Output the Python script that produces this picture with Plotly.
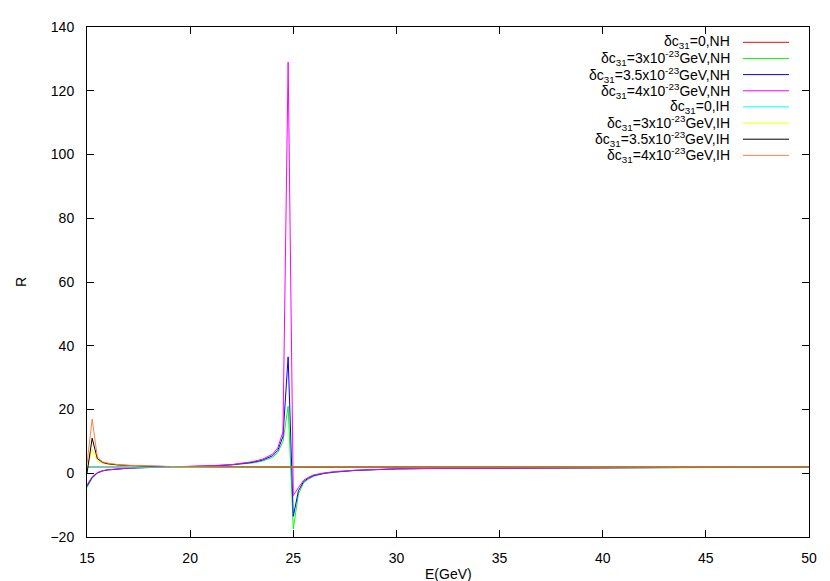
import plotly.graph_objects as go

# Energy grid (GeV)
E = [15, 15.25, 15.5, 15.75, 16, 16.5, 17, 17.5, 18, 19, 20, 21, 22, 23, 23.5, 24, 24.25,
     24.5, 24.75, 25, 25.25, 25.5, 25.75, 26, 26.5, 27, 28, 29, 30, 32, 35, 40, 45, 50]

# NH series
R_nh_0 = [1.95] * len(E)
R_nh_3 = [-4.5, -1.6, 0.0, 0.7, 1.0, 1.35, 1.55, 1.7, 1.78, 1.9, 2.0, 2.25, 2.6, 3.2, 3.8, 5.0, 6.5,
          10.0, 21.0, -17.5, -6.5, -3.0, -1.8, -0.9, -0.1, 0.3, 0.85, 1.15, 1.35, 1.5, 1.6, 1.75, 1.82, 1.87]
R_nh_35 = [-4.0, -1.3, 0.1, 0.75, 1.05, 1.4, 1.6, 1.72, 1.8, 1.93, 2.05, 2.3, 2.65, 3.4, 4.1, 5.5, 7.2,
           11.5, 36.5, -13.5, -5.5, -2.6, -1.5, -0.7, 0.0, 0.4, 0.9, 1.18, 1.37, 1.52, 1.62, 1.76, 1.83, 1.87]
R_nh_4 = [-3.6, -1.1, 0.2, 0.8, 1.1, 1.45, 1.62, 1.74, 1.82, 1.95, 2.1, 2.35, 2.7, 3.6, 4.4, 6.0, 8.0,
          13.0, 129.0, -7.0, -4.5, -2.2, -1.2, -0.5, 0.1, 0.5, 0.95, 1.2, 1.4, 1.53, 1.63, 1.77, 1.83, 1.88]

# IH series
R_ih_0 = [1.9] * len(E)
R_ih_3 = [1.5, 7.5, 3.8, 3.1, 2.8, 2.5, 2.35, 2.25, 2.15, 2.08, 2.03, 2.0, 1.98, 1.96, 1.95, 1.95, 1.95,
          1.95, 1.95, 1.95, 1.95, 1.95, 1.95, 1.94, 1.94, 1.93, 1.93, 1.92, 1.92, 1.91, 1.9, 1.9, 1.9, 1.9]
R_ih_35 = [0.0, 11.0, 4.6, 3.4, 3.0, 2.6, 2.45, 2.3, 2.2, 2.1, 2.05, 2.01, 1.99, 1.97, 1.96, 1.96, 1.96,
           1.96, 1.96, 1.96, 1.95, 1.95, 1.95, 1.95, 1.94, 1.94, 1.93, 1.93, 1.92, 1.91, 1.91, 1.9, 1.9, 1.9]
R_ih_4 = [3.0, 17.0, 5.2, 3.6, 3.2, 2.7, 2.5, 2.35, 2.25, 2.12, 2.06, 2.02, 2.0, 1.98, 1.97, 1.97, 1.97,
          1.97, 1.97, 1.97, 1.96, 1.96, 1.96, 1.95, 1.95, 1.94, 1.94, 1.93, 1.93, 1.92, 1.91, 1.9, 1.9, 1.9]

series = [R_nh_0, R_nh_3, R_nh_35, R_nh_4, R_ih_0, R_ih_3, R_ih_35, R_ih_4]
labels = [
    "δc<sub>31</sub>=0,NH",
    "δc<sub>31</sub>=3x10<sup>-23</sup>GeV,NH",
    "δc<sub>31</sub>=3.5x10<sup>-23</sup>GeV,NH",
    "δc<sub>31</sub>=4x10<sup>-23</sup>GeV,NH",
    "δc<sub>31</sub>=0,IH",
    "δc<sub>31</sub>=3x10<sup>-23</sup>GeV,IH",
    "δc<sub>31</sub>=3.5x10<sup>-23</sup>GeV,IH",
    "δc<sub>31</sub>=4x10<sup>-23</sup>GeV,IH",
]
colors = ["#ff0000", "#00ff00", "#0000ff", "#ff00ff", "#00ffff", "#ffff00", "#000000", "#ff8040"]

x_ticks = [15, 20, 25, 30, 35, 40, 45, 50]
y_ticks = [-20, 0, 20, 40, 60, 80, 100, 120, 140]

W, H = 830, 581
L, R, T, B = 79, 29, 19, 52
ph = H - T - B
pw = W - L - R
FONT = "Liberation Sans, Arial, sans-serif"

fig = go.Figure()
for ys, lab, c in zip(series, labels, colors):
    fig.add_trace(go.Scatter(x=E, y=ys, mode="lines", name=lab,
                             line=dict(color=c, width=1), showlegend=False))

# gnuplot-style key: right-aligned text with line sample on the right
row0 = 34.3
dy = 16.15
for i, (lab, c) in enumerate(zip(labels, colors)):
    ypix = row0 + i * dy
    yp = 1 - (ypix - T) / ph
    fig.add_annotation(x=(724 - L) / pw, y=yp, xref="paper", yref="paper",
                       text=lab, showarrow=False, xanchor="right", yanchor="middle",
                       font=dict(family=FONT, size=14, color="black"))
    fig.add_shape(type="line", xref="paper", yref="paper",
                  x0=(735 - L) / pw, x1=(781 - L) / pw, y0=yp, y1=yp,
                  line=dict(color=c, width=1))

fig.add_annotation(x=0.5, y=(T + ph - 566) / ph, xref="paper", yref="paper", text="E(GeV)",
                   showarrow=False, xanchor="center", yanchor="middle",
                   font=dict(family=FONT, size=14, color="black"))
fig.add_annotation(x=(13 - L) / pw, y=0.5, xref="paper", yref="paper", text="R",
                   showarrow=False, xanchor="center", yanchor="middle", textangle=-90,
                   font=dict(family=FONT, size=14, color="black"))

axis_common = dict(showgrid=False, zeroline=False, showline=True, linecolor="black", linewidth=1,
                   mirror="ticks", ticks="inside", ticklen=7, tickcolor="black", tickwidth=1,
                   tickfont=dict(family=FONT, size=14, color="black"))

fig.update_layout(
    width=W, height=H,
    margin=dict(l=L, r=R, t=T, b=B),
    paper_bgcolor="white", plot_bgcolor="white",
    xaxis=dict(range=[15, 50], tickvals=x_ticks, ticklabelstandoff=8, **axis_common),
    yaxis=dict(range=[-20, 140], tickvals=y_ticks, ticklabelstandoff=9, **axis_common),
)

fig.write_html("out.html")
